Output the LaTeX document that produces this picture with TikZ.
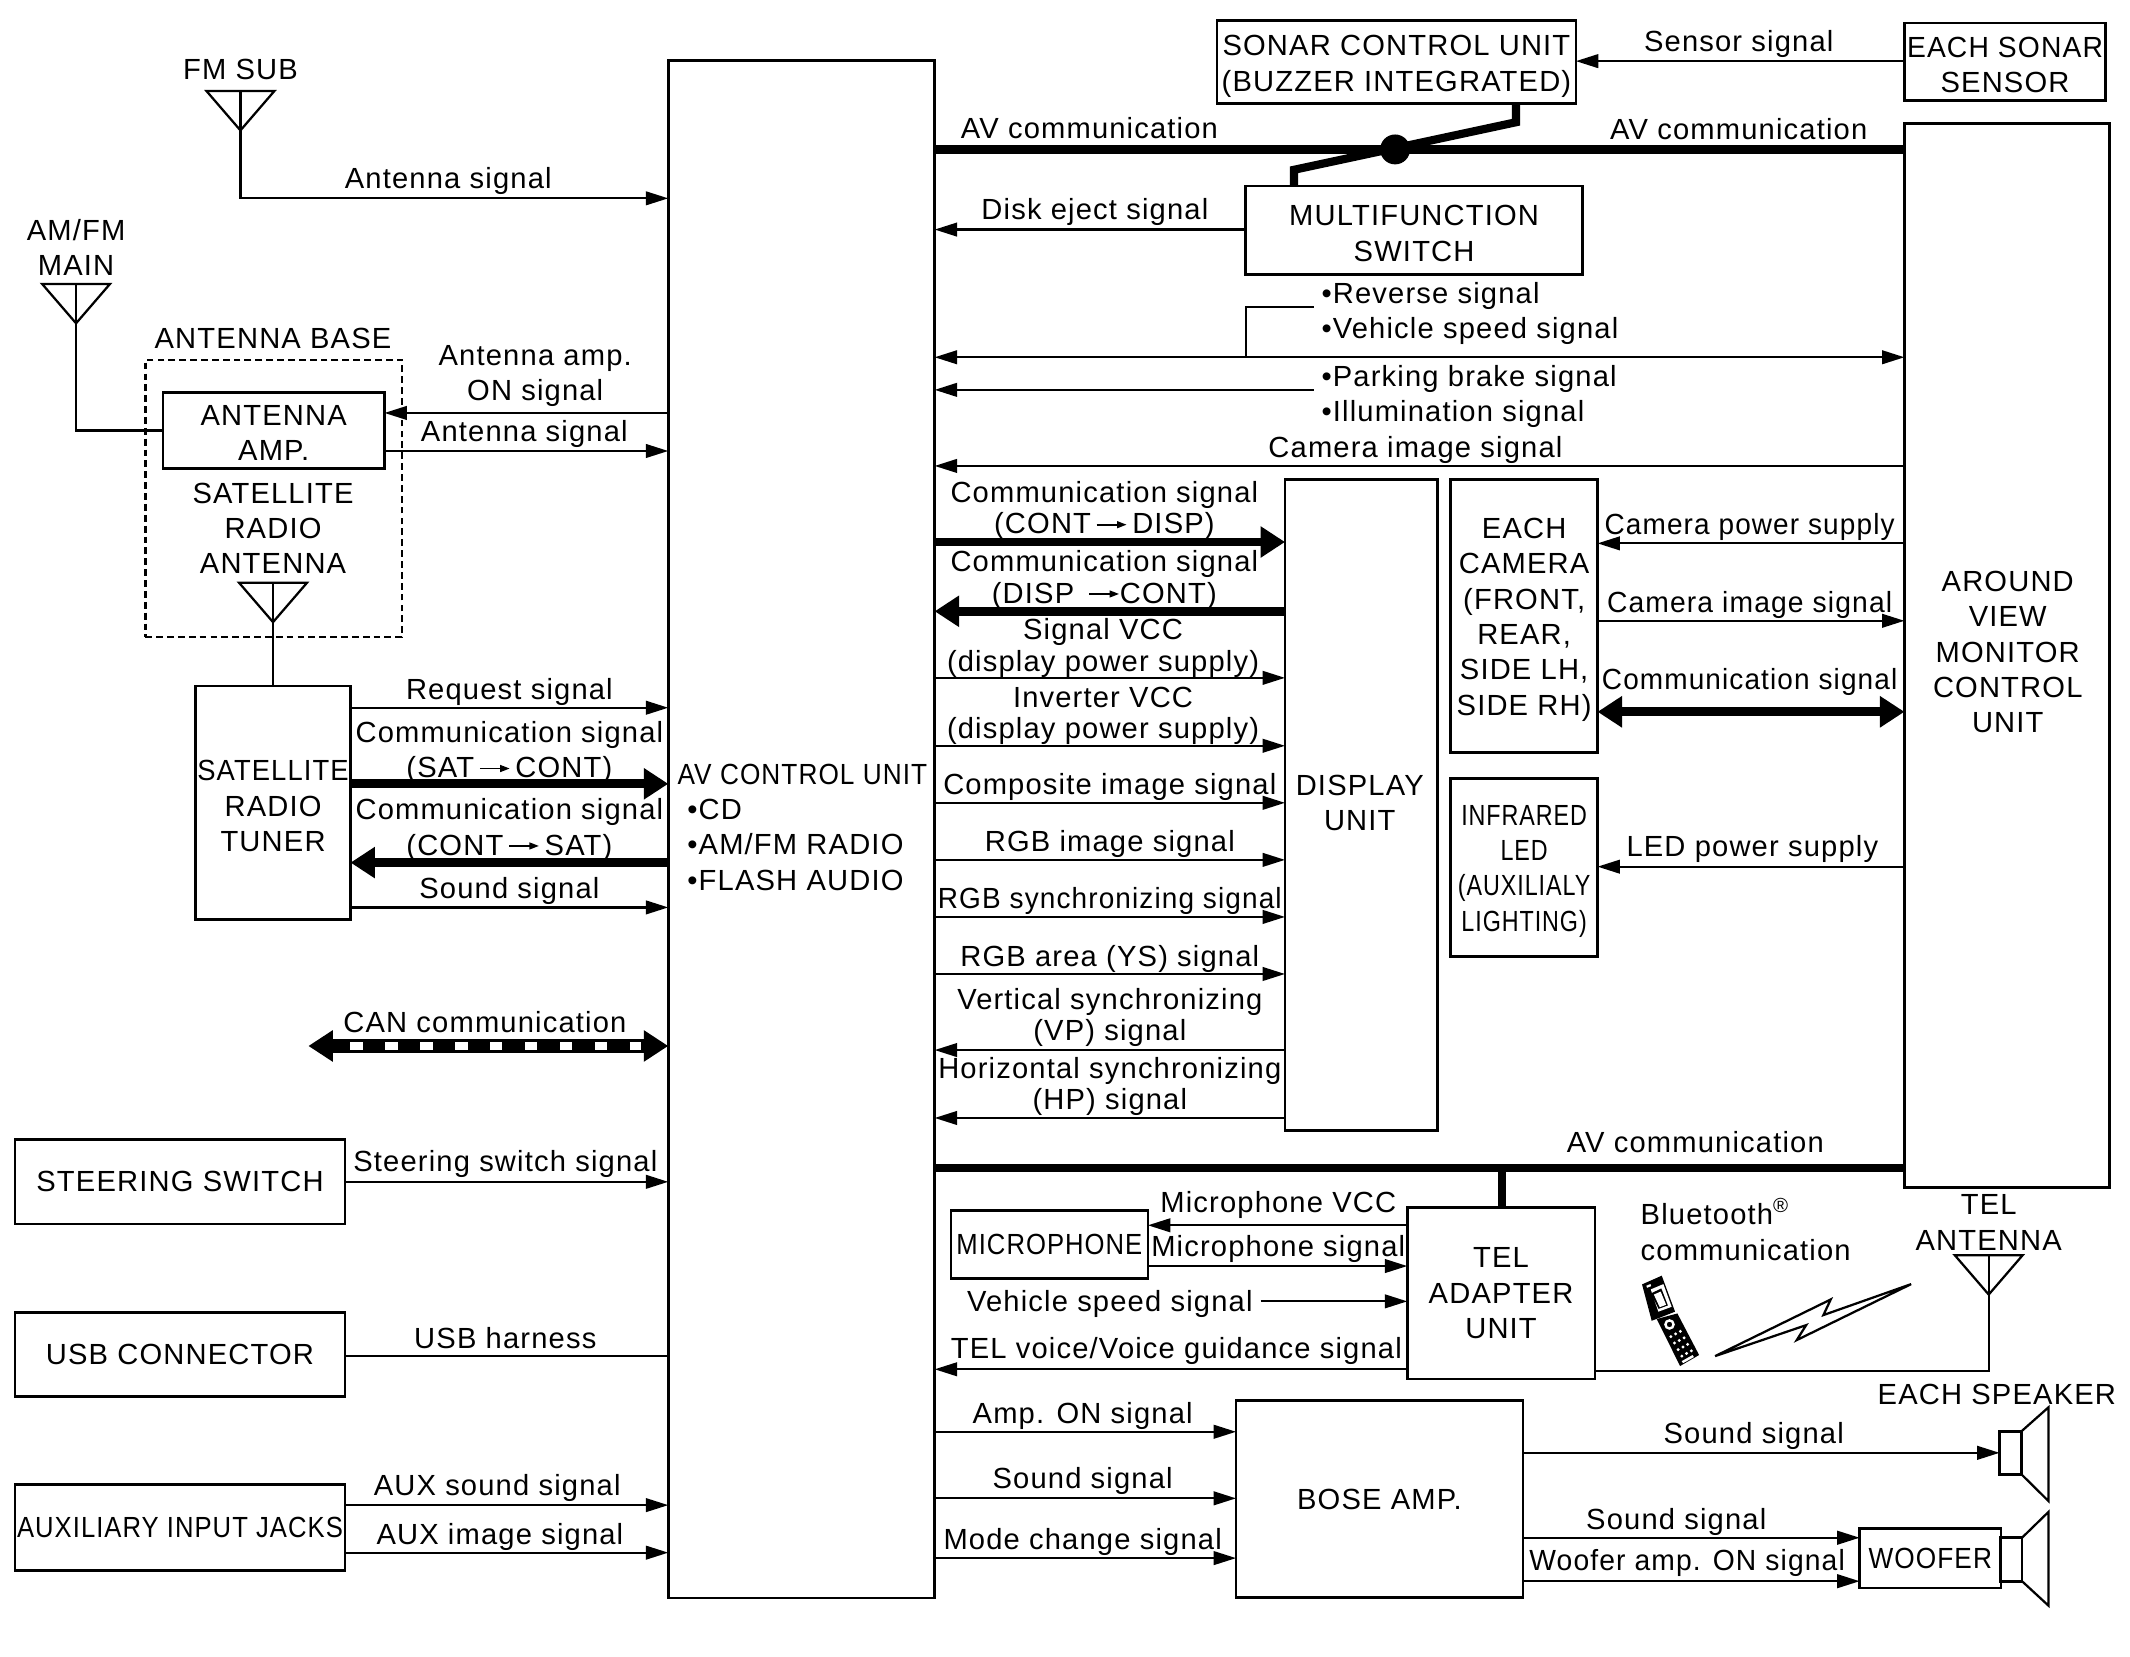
\documentclass[tikz,border=0pt]{standalone}
\usepackage{fontspec}
\setmainfont[LetterSpace=4]{Liberation Sans}
\usetikzlibrary{arrows.meta}

\newcommand{\sigarrow}{\,\tikz[baseline=-0.6ex]\draw[line width=.35pt,-{Triangle[length=.07cm,width=.05cm]}] (0,0) -- (.22cm,0);\,}
\newcommand{\narrow}[2]{\scalebox{#1}[1]{#2}}
\newcommand{\topstrut}[1]{\rule{0pt}{#1}}
\newcommand{\antenna}[3]{%
  \coordinate (#1) at (#2,#3);
  \draw (#2-25,#3) -- (#2+25,#3) -- (#2,#3+29) -- cycle;
  \draw (#1) -- (#2,#3+29);
}

\tikzset{
  unit/.style={draw, inner sep=0pt, outer sep=0pt, align=center, line width=.55pt},
  lbl/.style={inner sep=0pt, text height=.155cm, text depth=0pt},
  lbls/.style={inner sep=0pt, align=center, yshift=-.02cm},
  tight/.style={font=\fontsize{6.1}{6.54}\selectfont},
  fat/.style={line width=.066cm, >={Triangle[length=.18cm,width=.22cm]}},
  bus/.style={line width=.06cm},
}

\begin{document}
\begin{tikzpicture}[x=0.01cm,y=-0.01cm,line width=.47pt,font=\fontsize{6.1}{7.39}\selectfont,>={Triangle[length=.165cm,width=.1cm]}]
	\useasboundingbox (0,0) rectangle (1568,1219.8);

	%---NODES---
	\node[unit, minimum width=1.96cm, minimum height=11.31cm] (avcu) at (590,610.5) {};
	\node[unit, minimum width=2.64cm, minimum height=.61cm] (sonar) at (1028,45.5) {\topstrut{6.1pt}SONAR CONTROL UNIT\\(BUZZER INTEGRATED)};
	\node[unit, minimum width=1.48cm, minimum height=.57cm] (sensor) at (1476,45.5) {\topstrut{5.6pt}\narrow{.97}{EACH SONAR}\\SENSOR};
	\node[unit, minimum width=2.48cm, minimum height=.65cm] (multi) at (1041,169.5) {\topstrut{5.6pt}MULTIFUNCTION\\SWITCH};
	\node[unit, minimum width=1.51cm, minimum height=7.83cm] (avm) at (1477.5,482.5) {};
	\node[unit, minimum width=1.12cm, minimum height=4.79cm] (display) at (1002,592.5) {};
	\node[unit, minimum width=1.08cm, minimum height=2.01cm] (camera) at (1122,453.5) {\topstrut{5.8pt}EACH\\CAMERA\\(FRONT,\\REAR,\\SIDE LH,\\SIDE RH)};
	\node[unit, minimum width=1.08cm, minimum height=1.31cm] (infrared) at (1122,638.5) {\topstrut{5.8pt}\narrow{.8}{INFRARED}\\\narrow{.8}{LED}\\\narrow{.8}{(AUXILIALY}\\\narrow{.8}{LIGHTING)}};
	\node[unit, dash pattern=on .05cm off .03cm, minimum width=1.89cm, minimum height=2.04cm] (base) at (201.5,367) {};
	\node[unit, minimum width=1.63cm, minimum height=.56cm] (antamp) at (201.5,317) {\topstrut{5.1pt}ANTENNA\\AMP.};
	\node[unit, minimum width=1.14cm, minimum height=1.72cm] (tuner) at (201,591) {\topstrut{5.6pt}\narrow{.94}{SATELLITE}\\RADIO\\TUNER};
	\node[unit, minimum width=2.43cm, minimum height=.62cm] (steer) at (132.5,870) {STEERING SWITCH};
	\node[unit, minimum width=2.43cm, minimum height=.62cm] (usb) at (132.5,997) {USB CONNECTOR};
	\node[unit, minimum width=2.43cm, minimum height=.63cm] (aux) at (132.5,1124.5) {\narrow{.88}{AUXILIARY INPUT JACKS}};
	\node[unit, minimum width=1.45cm, minimum height=.5cm] (mic) at (772.5,916) {\narrow{.88}{MICROPHONE}};
	\node[unit, minimum width=1.38cm, minimum height=1.26cm] (teladp) at (1105,952) {TEL\\ADAPTER\\UNIT};
	\node[unit, minimum width=2.11cm, minimum height=1.45cm] (bose) at (1015.5,1103.5) {BOSE AMP.};
	\node[unit, minimum width=1.04cm, minimum height=.44cm] (woofer) at (1421,1147) {\narrow{.9}{WOOFER}};
	\node[unit, minimum width=.16cm, minimum height=.315cm] (coila) at (1480,1069.5) {};
	\node[unit, minimum width=.16cm, minimum height=.32cm] (coilb) at (1480.5,1148) {};
	\node[circle, fill=black, inner sep=0pt, minimum size=.22cm] (busdot) at (1027,110) {};

	\antenna{fmsub}{177}{67}
	\antenna{amfm}{56}{209}
	\antenna{satant}{201}{429}
	\antenna{telant}{1464}{924}

	\coordinate (canl) at (227,770);
	\coordinate (revbr) at (917,263);
	\coordinate (revend) at (967,226);
	\coordinate (parkend) at (967,287);
	\coordinate (vspd) at (928,958);

	% speakers
	\draw (coila.north east) -- (1508,1036) -- (1508,1105) -- (coila.south east);
	\draw (coilb.north east) -- (1508,1113) -- (1508,1182) -- (coilb.south east);

	% phone
	\fill (1208.8,945.5) -- (1223.3,939.1) -- (1233.1,965.6) -- (1215.9,972.3) -- cycle;
	\fill[white] (1215.2,949.2) -- (1224.5,945.3) -- (1230.6,962) -- (1220.8,965.6) -- cycle;
	\fill (1215.2,949.2+3) -- (1223,948.5) -- (1227.8,961) -- (1221,963.5) -- cycle;
	\fill[white] (1217.5,953) -- (1222.5,950.8) -- (1226.5,960.5) -- (1221.8,962.3) -- cycle;
	\fill[white] (1212,946.5) -- (1215,945.2) -- (1215.5,946.8) -- (1212.5,948) -- cycle;
	\fill (1219.6,971) -- (1234.8,966.9) -- (1250.8,997.5) -- (1236.8,1005.6) -- cycle;
	\draw[white, line width=.5pt] (1229,975) circle (3);
	\foreach \i in {0,1,2,3} {
		\foreach \j in {-1,0,1} {
			\fill[white] (1233.5+.49*\i*5.5+.88*\j*4, 982+.87*\i*5.5-.48*\j*4) circle (.012cm);
		}
	}
	\fill[white] (1238,1002) -- (1246,997.5) -- (1247,999) -- (1239,1003.5) -- cycle;

	% lightning
	\draw (1262.6,998.3) -- (1347.7,956.6) -- (1342.3,968.1) -- (1406.9,945.3) -- (1322.7,986.5) -- (1329.6,975.5) -- cycle;

	%---EDGES---
	\draw[->] (fmsub) |- (avcu.west |- 0,146);
	\draw (amfm) |- (antamp.west);
	\draw (satant) -- (tuner.north);
	\draw[<-] (antamp.east |- 0,304) -- (avcu.west |- 0,304);
	\draw[->] (antamp.east |- 0,332) -- (avcu.west |- 0,332);
	\draw[->] (tuner.east |- 0,521) -- (avcu.west |- 0,521);
	\draw[->,fat] (tuner.east |- 0,577) -- (avcu.west |- 0,577);
	\draw[<-,fat] (tuner.east |- 0,635) -- (avcu.west |- 0,635);
	\draw[->] (tuner.east |- 0,668) -- (avcu.west |- 0,668);

	\draw[<->, line width=.098cm, >={Triangle[length=.18cm,width=.22cm]}] (canl) -- (avcu.west |- canl);
	\draw[white, line width=.054cm, dash pattern=on .09cm off .167cm] (258,770) -- (472,770);

	\draw[->] (steer.east |- 0,870) -- (avcu.west |- 0,870);
	\draw (usb.east |- 0,998) -- (avcu.west |- 0,998);
	\draw[->] (aux.east |- 0,1108) -- (avcu.west |- 0,1108);
	\draw[->] (aux.east |- 0,1143) -- (avcu.west |- 0,1143);

	\draw[bus] (avcu.east |- 0,110) -- (avm.west |- 0,110);
	\draw[bus] (sonar.south -| 1116,0) -- (1116,90) -- (952.6,125) -- (multi.north -| 952.6,0);
	\draw[->] (sensor.west |- 0,45) -- (sonar.east |- 0,45);
	\draw[<-] (avcu.east |- 0,169) -- (multi.west |- 0,169);
	\draw[<->] (avcu.east |- revbr) -- (avm.west |- revbr);
	\draw (revbr) |- (revend);
	\draw[->] (parkend) -- (avcu.east |- parkend);
	\draw[<-] (avcu.east |- 0,343) -- (avm.west |- 0,343);

	\draw[->,fat] (avcu.east |- 0,399) -- (display.west |- 0,399);
	\draw[<-,fat] (avcu.east |- 0,450) -- (display.west |- 0,450);
	\foreach \y in {499,549,591,633,675,717} {
		\draw[->] (avcu.east |- 0,\y) -- (display.west |- 0,\y);
	}
	\draw[<-] (avcu.east |- 0,773) -- (display.west |- 0,773);
	\draw[<-] (avcu.east |- 0,823) -- (display.west |- 0,823);

	\draw[<-] (camera.east |- 0,400) -- (avm.west |- 0,400);
	\draw[->] (camera.east |- 0,457) -- (avm.west |- 0,457);
	\draw[<->,fat] (camera.east |- 0,524) -- (avm.west |- 0,524);
	\draw[<-] (infrared.east |- 0,638) -- (avm.west |- 0,638);

	\draw[bus] (avcu.east |- 0,860) -- (avm.west |- 0,860);
	\draw[bus] (teladp.north -| 1106,0) -- (1106,860);
	\draw[<-] (mic.east |- 0,902) -- (teladp.west |- 0,902);
	\draw[->] (mic.east |- 0,932) -- (teladp.west |- 0,932);
	\draw[->] (vspd) -- (teladp.west |- vspd);
	\draw[<-] (avcu.east |- 0,1008) -- (teladp.west |- 0,1008);
	\draw (telant) |- (teladp.east |- 0,1009);

	\draw[->] (avcu.east |- 0,1054) -- (bose.west |- 0,1054);
	\draw[->] (avcu.east |- 0,1103) -- (bose.west |- 0,1103);
	\draw[->] (avcu.east |- 0,1147) -- (bose.west |- 0,1147);
	\draw[->] (bose.east |- coila) -- (coila.west);
	\draw[->] (bose.east |- 0,1132) -- (woofer.west |- 0,1132);
	\draw[->] (bose.east |- 0,1164) -- (woofer.west |- 0,1164);

	%---LABELS---
	\node[lbl] (fmlbl) at (177,51) {FM SUB};
	\node[lbls] (amlbl) at (56,180) {AM/FM\\MAIN};
	\node[lbl] (fmsig) at (330,131) {Antenna signal};
	\node[lbl] (baselbl) at (201,249) {ANTENNA BASE};
	\node[lbls] (ampon) at (394,275) {Antenna amp.\\ON signal};
	\node[lbl] (antsig) at (386,317) {Antenna signal};
	\node[lbls] (satlbl) at (201,387) {SATELLITE\\RADIO\\ANTENNA};
	\node[lbl] (reqsig) at (375,507) {Request signal};
	\node[lbls] (satcont) at (375,552) {Communication signal\\(SAT\sigarrow CONT)};
	\node[lbls] (contsat) at (375,609) {Communication signal\\(CONT\sigarrow SAT)};
	\node[lbl] (sndsig) at (375,654) {Sound signal};
	\node[lbl] (canlbl) at (357,752) {CAN communication};
	\node[lbl] (steersig) at (372,855) {Steering switch signal};
	\node[lbl] (usbsig) at (372,985) {USB harness};
	\node[lbl] (auxsnd) at (366,1093) {AUX sound signal};
	\node[lbl] (auximg) at (368,1129) {AUX image signal};

	\node[lbls, align=left, anchor=west] (avlbl) at (498,607) {\narrow{.9}{AV CONTROL UNIT}\\\,\,•CD\\\,\,•AM/FM RADIO\\\,\,•FLASH AUDIO};
	\node[lbl] (avtop) at (802,94) {AV communication};
	\node[lbl] (avtopr) at (1280,95) {AV communication};
	\node[lbl] (sensig) at (1280,30) {Sensor signal};
	\node[lbl] (disksig) at (806,154) {Disk eject signal};
	\node[lbls, align=left, anchor=west] (revlbl) at (972,229) {•Reverse signal\\•Vehicle speed signal};
	\node[lbls, align=left, anchor=west] (parklbl) at (972,290) {•Parking brake signal\\•Illumination signal};
	\node[lbl] (camsig) at (1042,329) {Camera image signal};

	\node[lbls, tight] (contdisp) at (813,374) {Communication signal\\(CONT\sigarrow DISP)};
	\node[lbls, tight] (dispcont) at (813,425) {Communication signal\\(DISP \sigarrow\!CONT)};
	\node[lbls, tight] (sigvcc) at (812,475) {Signal VCC\hspace{.06cm}\\(display power supply)};
	\node[lbls, tight] (invvcc) at (812,525) {Inverter VCC\hspace{.06cm}\\(display power supply)};
	\node[lbl] (compsig) at (817,577) {Composite image signal};
	\node[lbl] (rgbsig) at (817,619) {RGB image signal};
	\node[lbl] (syncsig) at (817,661) {\narrow{.96}{RGB synchronizing signal}};
	\node[lbl] (areasig) at (817,704) {RGB area (YS) signal};
	\node[lbls, tight] (vpsig) at (817,747) {Vertical synchronizing\\(VP) signal};
	\node[lbls, tight] (hpsig) at (817,798) {Horizontal synchronizing\\(HP) signal};
	\node[lbls] (displbl) at (1001,589) {DISPLAY\\UNIT};

	\node[lbl] (campwr) at (1288,386) {\narrow{.96}{Camera power supply}};
	\node[lbl] (camimg) at (1288,443) {\narrow{.97}{Camera image signal}};
	\node[lbl] (camcom) at (1288,500) {\narrow{.96}{Communication signal}};
	\node[lbl] (ledpwr) at (1290,623) {LED power supply};
	\node[lbls] (avmlbl) at (1478,478) {AROUND\\VIEW\\MONITOR\\CONTROL\\UNIT};

	\node[lbl] (avbot) at (1248,841) {AV communication};
	\node[lbl] (micvcc) at (941,885) {Microphone VCC};
	\node[lbl] (micsig) at (941,917) {Microphone signal};
	\node[lbl] (vspdlbl) at (817,958) {Vehicle speed signal};
	\node[lbl] (telsig) at (866,992) {TEL voice/Voice guidance signal};
	\node[lbls, align=left, anchor=west] (btlbl) at (1207,903) {Bluetooth\textsuperscript{®}\\communication};
	\node[lbls] (tellbl) at (1464,898) {TEL\\ANTENNA};

	\node[lbl] (amponsig) at (797,1040) {Amp. ON signal};
	\node[lbl] (sndin) at (797,1088) {Sound signal};
	\node[lbl] (modesig) at (797,1133) {Mode change signal};
	\node[lbl] (spklbl) at (1470,1026) {EACH SPEAKER};
	\node[lbl] (sndout) at (1291,1055) {Sound signal};
	\node[lbl] (sndwf) at (1234,1118) {Sound signal};
	\node[lbl] (wfon) at (1242,1148) {\narrow{.97}{Woofer amp. ON signal}};

\end{tikzpicture}
\end{document}
